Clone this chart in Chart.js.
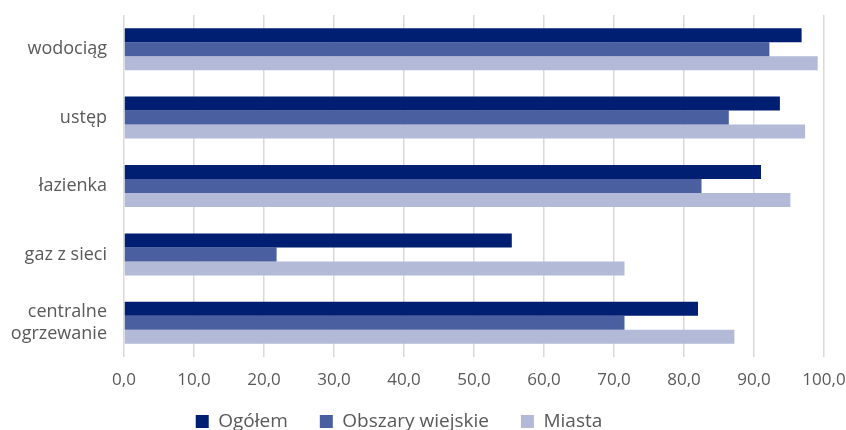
<!DOCTYPE html>
<html>
<head>
<meta charset="utf-8">
<script src="https://cdn.jsdelivr.net/npm/chart.js@4/dist/chart.umd.min.js"></script>
<style>
    html, body { margin: 0; padding: 0; background: #fff; }
    #wrap { width: 846px; height: 430px; }
</style>
</head>
<body>
<div id="wrap"><canvas id="chart"></canvas></div>
<script>
const categories = ['wodociąg', 'ustęp', 'łazienka', 'gaz z sieci', ['centralne', 'ogrzewanie']];
const seriesNames = ['Ogółem', 'Obszary wiejskie', 'Miasta'];
const ogolem = [96.8, 93.7, 91.0, 55.4, 82.0];
const wiejskie = [92.2, 86.4, 82.5, 21.8, 71.5];
const miasta = [99.1, 97.3, 95.2, 71.5, 87.2];
const xTicks = [0, 10, 20, 30, 40, 50, 60, 70, 80, 90, 100];

const colors = ['#001f73', '#4a5f9f', '#b3bad7'];
const textColor = '#595959';
const fontFamily = '"Open Sans", sans-serif';

const datasets = [ogolem, wiejskie, miasta].map((values, i) => ({
    label: seriesNames[i],
    data: values,
    backgroundColor: colors[i],
    borderWidth: 0,
    categoryPercentage: 0.614,
    barPercentage: 1.0
}));

// the legend sits higher and a little left of where the layout puts it
const legendNudge = {
    id: 'legendNudge',
    afterLayout(chart) {
        const lg = chart.legend;
        if (!lg) return;
        lg.top = 380;
        lg.left -= 24;
        lg.right -= 24;
    }
};

new Chart(document.getElementById('chart'), {
    type: 'bar',
    data: { labels: categories, datasets },
    plugins: [legendNudge],
    options: {
        indexAxis: 'y',
        responsive: true,
        maintainAspectRatio: false,
        animation: false,
        layout: { padding: { top: 15, bottom: 0, left: 0, right: 0 } },
        plugins: {
            legend: {
                position: 'bottom',
                maxHeight: 38,
                labels: {
                    boxWidth: 13,
                    boxHeight: 13,
                    padding: 32,
                    color: textColor,
                    font: { family: fontFamily, size: 19 }
                }
            },
            tooltip: { enabled: false }
        },
        scales: {
            x: {
                min: 0,
                max: 100,
                z: 1,
                afterBuildTicks: (scale) => {
                    scale.ticks = xTicks.map(v => ({ value: v }));
                },
                afterFit: (scale) => {
                    scale.height = 35;
                    scale.paddingLeft = 0;
                    scale.paddingRight = 22;
                },
                ticks: {
                    padding: 13,
                    color: textColor,
                    font: { family: fontFamily, size: 17 },
                    callback: (v) => Number(v).toFixed(1).replace('.', ',')
                },
                grid: {
                    color: 'rgba(0, 0, 0, 0.15)',
                    lineWidth: 1.5,
                    drawTicks: false
                },
                border: { display: false }
            },
            y: {
                afterFit: (scale) => {
                    scale.width = 124;
                    scale.paddingTop = 0;
                    scale.paddingBottom = 0;
                },
                ticks: {
                    padding: 17,
                    color: textColor,
                    font: { family: fontFamily, size: 18 }
                },
                grid: { display: false, drawTicks: false },
                border: { display: false }
            }
        }
    }
});
</script>
</body>
</html>
